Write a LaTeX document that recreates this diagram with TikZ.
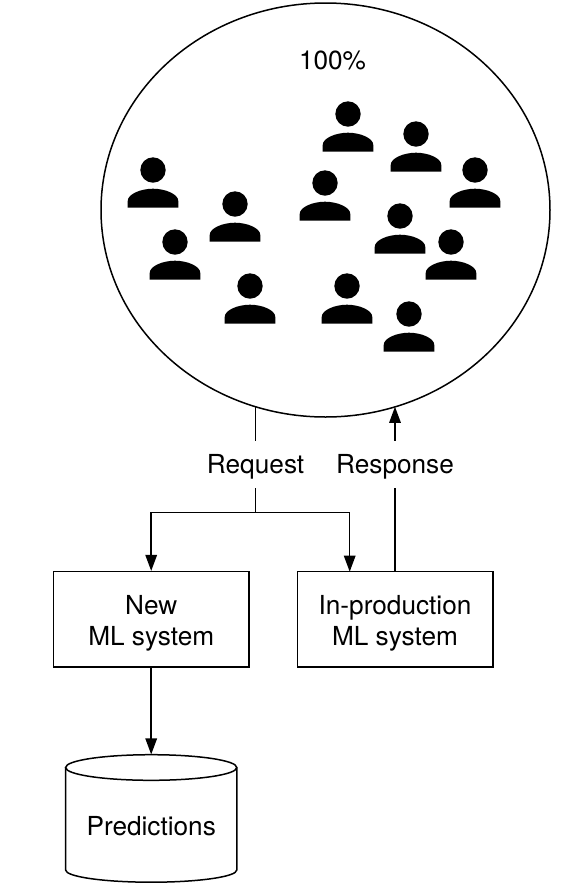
\documentclass[tikz,border=0pt]{standalone}
\usepackage{fontspec}
\setmainfont{TeX Gyre Heros}
\usetikzlibrary{arrows.meta}
\tikzset{
  every node/.style={font=\fontsize{26.2}{31}\selectfont},
  conn/.style={line width=1.5pt,draw=black},
  arr/.style={conn,-{Triangle[width=11.5pt,length=16pt]}},
  sysbox/.style={draw,line width=1.5pt,minimum width=195.5pt,minimum height=95.5pt,align=center,inner sep=0pt,text depth=0pt},
  lab/.style={inner sep=0pt,minimum height=47pt,text height=20pt,text depth=3pt},
  person/.pic={
    \fill (0,0) circle[radius=12.7pt];
    \fill (-25.3,37.7) -- (-25.3,31) .. controls (-25.3,24) and (-12,18.7) .. (0,18.7) .. controls (12,18.7) and (25.3,24) .. (25.3,31) -- (25.3,37.7) -- cycle;
  }
}
\usetikzlibrary{shapes.geometric}
\begin{document}
\begin{tikzpicture}[x=1pt,y=-1pt]
\useasboundingbox[fill=white] (0,0) rectangle (580,892);
\node[draw,ellipse,line width=1.5pt,minimum width=449pt,minimum height=414pt,inner sep=0pt] (pop) at (325.5,210) {};
\node[inner sep=0pt] (pct) at (332.5,60) {100\%};
\foreach \n/\px/\py in {a/153/170,b/235/204,c/175/242,d/250/286,e/348/114,f/416/134,g/475/170,h/325/183,i/400/216,j/451/242,k/347/286,l/409/314}
  \pic (\n) at (\px,\py) {person};
\coordinate (reqtop) at (255.6,406.8);
\coordinate (resptop) at (395,406.8);
\node[lab] (req) at (255.6,464.5) {Request};
\node[lab] (resp) at (395,464.5) {Response};
\node[sysbox] (new) at (151.2,619.4) {\raisebox{-1.5pt}{New}\\\raisebox{-1.5pt}{ML system}};
\node[sysbox] (prod) at (395,619.4) {\raisebox{-1.5pt}{In-production}\\\raisebox{-1.5pt}{ML system}};
\coordinate (junc) at (255.6,512.7);
\coordinate (prodin) at (349.7,571.7);
\draw[line width=1.5pt,fill=white] (65.6,767.5) -- (65.6,870) arc[start angle=180,end angle=360,x radius=85.6pt,y radius=12.2pt] -- (236.8,767.5);
\draw[line width=1.5pt] (151.2,767.5) ellipse[x radius=85.6pt,y radius=12.8pt];
\node[inner sep=0pt,minimum width=171pt,minimum height=127.5pt] (db) at (151.2,818.4) {};
\node[inner sep=0pt] (dblab) at (151.2,826) {Predictions};
\draw[conn] (req.north) -- (reqtop);
\draw[conn] (req.south) -- (junc);
\draw[arr] (junc) -| (new.north);
\draw[arr] (junc) -| (prodin);
\draw[conn] (prod.north) -- (resp.south);
\draw[arr] (resp.north) -- (resptop);
\draw[arr] (new.south) -- (db.north);
\end{tikzpicture}
\end{document}
